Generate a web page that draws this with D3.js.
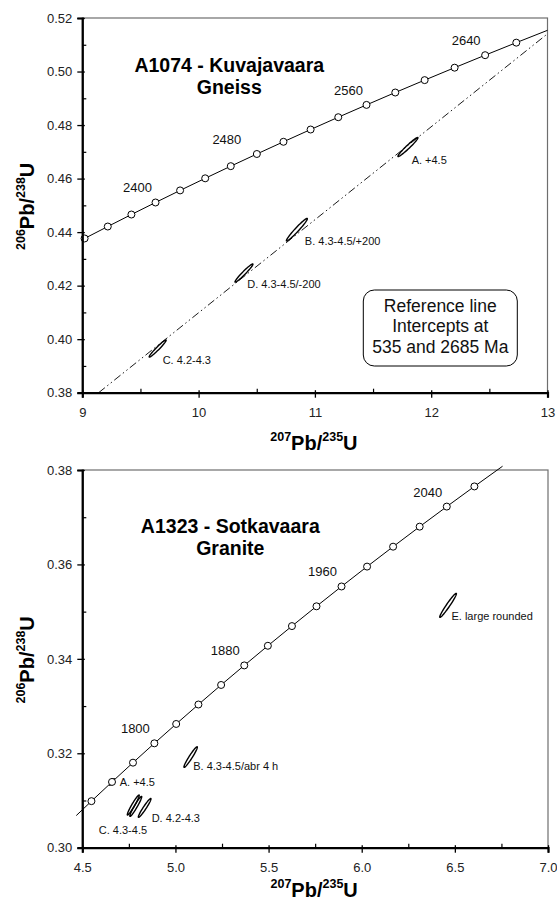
<!DOCTYPE html>
<html lang="en">

<head>
    <meta charset="UTF-8">
    <title>Concordia diagrams A1074 / A1323</title>
    <script src="https://d3js.org/d3.v7.min.js"></script>
    <style>
        body {
            margin: 0;
            background: #fff;
            font-family: "Liberation Sans", Arial, sans-serif;
        }
    </style>
</head>

<body>
    <div id="chart"></div>

    <script>
        // ---- data: concordia markers every 20 Ma ----
        const topAges = [2340, 2360, 2380, 2400, 2420, 2440, 2460, 2480, 2500, 2520, 2540, 2560, 2580, 2600, 2620, 2640, 2660];
        const topPb207U235 = [9.0197, 9.2190, 9.4222, 9.6296, 9.8410, 10.0567, 10.2766, 10.5009, 10.7297, 10.9630, 11.2010, 11.4437, 11.6912, 11.9437, 12.2012, 12.4638, 12.7316];
        const topPb206U238 = [0.43763, 0.44209, 0.44657, 0.45107, 0.45558, 0.46010, 0.46464, 0.46919, 0.47375, 0.47833, 0.48293, 0.48753, 0.49216, 0.49679, 0.50144, 0.50611, 0.51079];
        const topCurveEnds = [{ x: 9.0, y: 0.43718 }, { x: 13.0, y: 0.51540 }];
        const topAgeLabels = [2400, 2480, 2560, 2640];

        const botAges = [1740, 1760, 1780, 1800, 1820, 1840, 1860, 1880, 1900, 1920, 1940, 1960, 1980, 2000, 2020, 2040, 2060];
        const botPb207U235 = [4.5491, 4.6595, 4.7721, 4.8869, 5.0040, 5.1234, 5.2452, 5.3695, 5.4962, 5.6254, 5.7572, 5.8916, 6.0287, 6.1685, 6.3111, 6.4566, 6.6049];
        const botPb206U238 = [0.30986, 0.31393, 0.31801, 0.32211, 0.32621, 0.33033, 0.33447, 0.33861, 0.34277, 0.34694, 0.35113, 0.35533, 0.35954, 0.36376, 0.36800, 0.37225, 0.37652];
        const botCurveEnds = [{ x: 4.4677, y: 0.30681 }, { x: 6.7561, y: 0.38080 }];
        const botAgeLabels = [1800, 1880, 1960, 2040];

        // reference line 535 - 2685 Ma, visible part
        const refLine = [{ x: 9.1404, y: 0.38 }, { x: 13.0, y: 0.51410 }];

        // error ellipses: centre, half extents, correlation
        const topEllipses = [
            { id: "A", label: "A. +4.5", x: 11.800, y: 0.4718, hx: 0.086, hy: 0.00355, rho: 0.97 },
            { id: "B", label: "B. 4.3-4.5/+200", x: 10.845, y: 0.4409, hx: 0.090, hy: 0.0042, rho: 0.97 },
            { id: "D", label: "D. 4.3-4.5/-200", x: 10.390, y: 0.4247, hx: 0.077, hy: 0.0034, rho: 0.97 },
            { id: "C", label: "C. 4.2-4.3", x: 9.648, y: 0.3965, hx: 0.073, hy: 0.0032, rho: 0.97 }
        ];
        const botEllipses = [
            { id: "A", label: "A. +4.5", x: 4.6595, y: 0.31393, hx: 0.012, hy: 0.0007, rho: 0.95 },
            { id: "B", label: "B. 4.3-4.5/abr 4 h", x: 5.0815, y: 0.31919, hx: 0.036, hy: 0.00218, rho: 0.96 },
            { id: "C", label: "C. 4.3-4.5", x: 4.7736, y: 0.30903, hx: 0.032, hy: 0.00212, rho: 0.96 },
            { id: "C2", label: "", x: 4.7870, y: 0.30875, hx: 0.032, hy: 0.00212, rho: 0.96 },
            { id: "D", label: "D. 4.2-4.3", x: 4.8348, y: 0.30843, hx: 0.034, hy: 0.0020, rho: 0.96 },
            { id: "E", label: "E. large rounded", x: 6.4636, y: 0.35133, hx: 0.0447, hy: 0.00254, rho: 0.97 }
        ];

        const topXTicks = [9, 10, 11, 12, 13];
        const topXMinor = [9.5, 10.5, 11.5, 12.5];
        const topYTicks = [0.38, 0.40, 0.42, 0.44, 0.46, 0.48, 0.50, 0.52];
        const topYMinor = [0.39, 0.41, 0.43, 0.45, 0.47, 0.49, 0.51];
        const botXTicks = [4.5, 5.0, 5.5, 6.0, 6.5, 7.0];
        const botXMinor = [4.75, 5.25, 5.75, 6.25, 6.75];
        const botYTicks = [0.30, 0.32, 0.34, 0.36, 0.38];
        const botYMinor = [0.31, 0.33, 0.35, 0.37];

        // ---- layout ----
        const width = 557, height = 901;
        const svg = d3.select("#chart").append("svg")
            .attr("width", width)
            .attr("height", height);

        const panels = [
            {
                left: 82.3, top: 18, w: 465.2, h: 374.7,
                xDomain: [9, 13], yDomain: [0.38, 0.52],
                xTicks: topXTicks, xMinor: topXMinor, yTicks: topYTicks, yMinor: topYMinor,
                xFmt: d3.format("d"),
                ages: topAges, px: topPb207U235, py: topPb206U238, ends: topCurveEnds, ageLabels: topAgeLabels,
                ellipses: topEllipses, ref: refLine,
                title: ["A1074 - Kuvajavaara", "Gneiss"], titleX: 147, titleY: 53.7,
                labelOff: { A: [3.7, 17], B: [8, 15], D: [3.3, 15.3], C: [5, 15.7] },
                ageDx: { 2400: -18, 2480: -30, 2560: -18, 2640: -19 },
                xTitleY: 432
            },
            {
                left: 82.3, top: 470, w: 465.7, h: 377.7,
                xDomain: [4.5, 7.0], yDomain: [0.30, 0.38],
                xTicks: botXTicks, xMinor: botXMinor, yTicks: botYTicks, yMinor: botYMinor,
                xFmt: d3.format(".1f"),
                ages: botAges, px: botPb207U235, py: botPb206U238, ends: botCurveEnds, ageLabels: botAgeLabels,
                ellipses: botEllipses, ref: null,
                title: ["A1323 - Sotkavaara", "Granite"], titleX: 148, titleY: 63.3,
                labelOff: { A: [7.7, 3.7], B: [2.6, 13], C: [-34.5, 28.7], D: [7, 14], E: [3.4, 14.7] },
                ageDx: {},
                xTitleY: 427
            }
        ];

        panels.forEach(p => {
            const g = svg.append("g").attr("transform", `translate(${p.left},${p.top})`);
            const x = d3.scaleLinear().domain(p.xDomain).range([0, p.w]);
            const y = d3.scaleLinear().domain(p.yDomain).range([p.h, 0]);

            // grey frame (top / right)
            g.append("rect")
                .attr("width", p.w).attr("height", p.h)
                .attr("fill", "none")
                .attr("stroke", "#6e6e6e")
                .attr("stroke-width", 1.2);

            // reference line
            if (p.ref) {
                g.append("path")
                    .datum(p.ref)
                    .attr("d", d3.line().x(d => x(d.x)).y(d => y(d.y)))
                    .attr("fill", "none")
                    .attr("stroke", "#000")
                    .attr("stroke-width", 0.9)
                    .attr("stroke-dasharray", "8,3,1.5,3,1.5,3");
            }

            // error ellipses
            const ellLine = d3.line().x(d => x(d[0])).y(d => y(d[1])).curve(d3.curveLinearClosed);
            p.ellipses.forEach(e => {
                const pts = d3.range(72).map(i => {
                    const t = i / 72 * 2 * Math.PI;
                    return [e.x + e.hx * Math.cos(t),
                            e.y + e.hy * (e.rho * Math.cos(t) + Math.sqrt(1 - e.rho * e.rho) * Math.sin(t))];
                });
                g.append("path")
                    .attr("d", ellLine(pts))
                    .attr("fill", "none")
                    .attr("stroke", "#000")
                    .attr("stroke-width", 1.4);
                if (e.label) {
                    const off = p.labelOff[e.id];
                    g.append("text")
                        .attr("x", x(e.x) + off[0])
                        .attr("y", y(e.y) + off[1])
                        .attr("font-size", 11)
                        .attr("fill", "#111")
                        .text(e.label);
                }
            });

            // concordia curve
            const pts = p.ages.map((a, i) => ({ age: a, x: p.px[i], y: p.py[i] }));
            const curvePts = [p.ends[0]].concat(pts, [p.ends[1]]);
            g.append("path")
                .datum(curvePts)
                .attr("d", d3.line().x(d => x(d.x)).y(d => y(d.y)).curve(d3.curveMonotoneX))
                .attr("fill", "none")
                .attr("stroke", "#000")
                .attr("stroke-width", 1);

            g.selectAll("circle.m")
                .data(pts)
                .join("circle")
                .attr("class", "m")
                .attr("cx", d => x(d.x))
                .attr("cy", d => y(d.y))
                .attr("r", 3.5)
                .attr("fill", "#fff")
                .attr("stroke", "#000")
                .attr("stroke-width", 1);

            g.selectAll("text.age")
                .data(pts.filter(d => p.ageLabels.includes(d.age)))
                .join("text")
                .attr("class", "age")
                .attr("x", d => x(d.x) + (p.ageDx[d.age] !== undefined ? p.ageDx[d.age] : -19))
                .attr("y", d => y(d.y) - 10)
                .attr("text-anchor", "middle")
                .attr("font-size", 13)
                .attr("fill", "#111")
                .text(d => d.age);

            // axes
            const yAxis = g.append("g")
                .call(d3.axisLeft(y).tickValues(p.yTicks).tickSize(5).tickPadding(5).tickFormat(d3.format(".2f")));
            yAxis.selectAll(".tick line").attr("x1", 2.5).attr("stroke-width", 1.3);
            yAxis.select(".domain").attr("stroke-width", 2.2);
            g.append("g")
                .call(d3.axisRight(y).tickValues(p.yMinor).tickSize(4).tickFormat(""))
                .call(a => a.select(".domain").remove())
                .selectAll(".tick line").attr("stroke-width", 1.2);

            const xAxis = g.append("g")
                .attr("transform", `translate(0,${p.h})`)
                .call(d3.axisBottom(x).tickValues(p.xTicks).tickSize(5).tickPadding(10).tickFormat(p.xFmt));
            xAxis.selectAll(".tick line").attr("y1", -2.5).attr("stroke-width", 1.3);
            xAxis.select(".domain").attr("stroke-width", 2.2);
            g.append("g")
                .attr("transform", `translate(0,${p.h})`)
                .call(d3.axisTop(x).tickValues(p.xMinor).tickSize(4).tickFormat(""))
                .call(a => a.select(".domain").remove())
                .selectAll(".tick line").attr("stroke-width", 1.2);

            g.selectAll(".tick text")
                .attr("font-family", "'Liberation Sans', Arial, sans-serif")
                .attr("font-size", 13)
                .attr("fill", "#222");

            // panel title
            const title = g.append("text")
                .attr("x", p.titleX)
                .attr("y", p.titleY)
                .attr("text-anchor", "middle")
                .attr("font-size", 19.5)
                .attr("font-weight", "bold");
            title.append("tspan").text(p.title[0]);
            title.append("tspan").attr("x", p.titleX).attr("dy", 22).text(p.title[1]);

            // axis titles
            const xt = g.append("text")
                .attr("x", p.w / 2 - 1)
                .attr("y", p.xTitleY)
                .attr("text-anchor", "middle")
                .attr("font-weight", "bold");
            xt.append("tspan").attr("font-size", 12.5).attr("dy", -9).text("207");
            xt.append("tspan").attr("font-size", 20).attr("dy", 9).text("Pb/");
            xt.append("tspan").attr("font-size", 12.5).attr("dy", -9).text("235");
            xt.append("tspan").attr("font-size", 20).attr("dy", 9).text("U");

            const yt = g.append("text")
                .attr("transform", `translate(${34 - p.left},${p.h / 2 + 1}) rotate(-90)`)
                .attr("text-anchor", "middle")
                .attr("font-weight", "bold");
            yt.append("tspan").attr("font-size", 12.5).attr("dy", -9).text("206");
            yt.append("tspan").attr("font-size", 20).attr("dy", 9).text("Pb/");
            yt.append("tspan").attr("font-size", 12.5).attr("dy", -9).text("238");
            yt.append("tspan").attr("font-size", 20).attr("dy", 9).text("U");

            // reference line note (top panel only)
            if (p.ref) {
                g.append("rect")
                    .attr("x", 281).attr("y", 272)
                    .attr("width", 154).attr("height", 76)
                    .attr("rx", 11)
                    .attr("fill", "#fff")
                    .attr("stroke", "#000")
                    .attr("stroke-width", 1);
                const note = g.append("text")
                    .attr("text-anchor", "middle")
                    .attr("font-size", 17.5)
                    .attr("fill", "#111");
                ["Reference line", "Intercepts at", "535 and 2685 Ma"].forEach((s, i) => {
                    note.append("tspan").attr("x", 358).attr("y", 293.7 + i * 20.5).text(s);
                });
            }
        });
    </script>
</body>

</html>
